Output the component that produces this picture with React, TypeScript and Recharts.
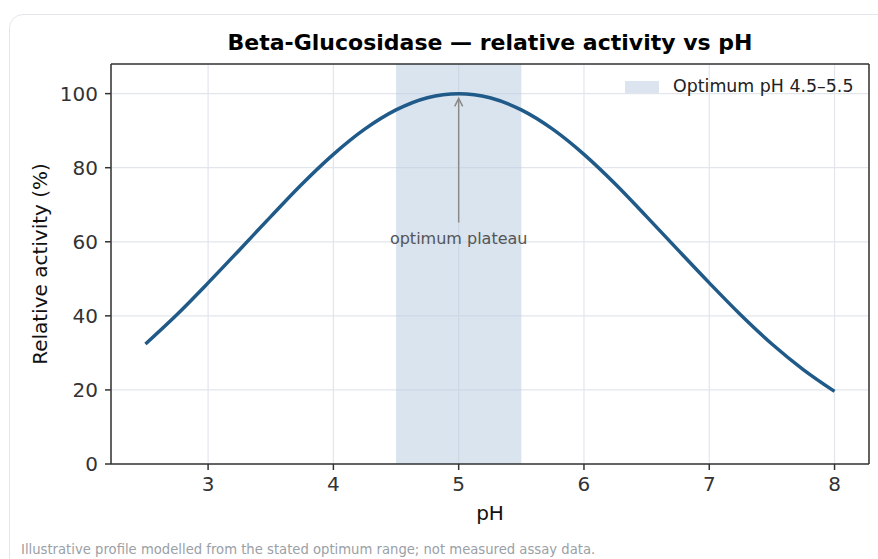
import { LineChart, Line, XAxis, YAxis, CartesianGrid, ReferenceArea, ReferenceLine, Label } from 'recharts';

const PH = [2.5, 2.75, 3, 3.25, 3.5, 3.75, 4, 4.25, 4.5, 4.75, 5, 5.25, 5.5, 5.75, 6, 6.25, 6.5, 6.75, 7, 7.25, 7.5, 7.75, 8];
const ACTIVITY = [32.4, 40.3, 48.9, 57.8, 66.8, 75.6, 83.6, 90.4, 95.6, 98.9, 100, 98.9, 95.6, 90.4, 83.6, 75.6, 66.8, 57.8, 48.9, 40.3, 32.4, 25.5, 19.6];

const X_TICKS = [3, 4, 5, 6, 7, 8];
const Y_TICKS = [0, 20, 40, 60, 80, 100];
const OPTIMUM = [4.5, 5.5];
const ARROW = { x: 5, from: 65.2, to: 98.7 };

const TITLE = 'Beta-Glucosidase — relative activity vs pH';
const LEGEND = 'Optimum pH 4.5–5.5';
const NOTE = 'optimum plateau';
const FOOTER = 'Illustrative profile modelled from the stated optimum range; not measured assay data.';

const data = PH.map((ph, i) => ({ ph, activity: ACTIVITY[i] }));

const FONT = '"DejaVu Sans", sans-serif';
const TICK = { fontSize: 20, fill: '#333', fontFamily: FONT };

function Arrow(props: any) {
  const { x1, y1, x2, y2 } = props;
  const top = Math.min(y1, y2);
  const bottom = Math.max(y1, y2);
  return (
    <g>
      <line x1={x1} y1={bottom} x2={x2} y2={top + 1} stroke="#8a8a8a" strokeWidth={1.5} />
      <path d={`M${x1 - 4},${top + 8} L${x1},${top} L${x1 + 4},${top + 8}`} fill="none" stroke="#8a8a8a" strokeWidth={1.5} />
      <text x={x1} y={bottom + 21} textAnchor="middle" fontSize={16} fill="#555" fontFamily={FONT}>
        {NOTE}
      </text>
    </g>
  );
}

export default function App() {
  return (
    <div style={{ position: 'absolute', left: 0, top: 0, width: 878, height: 559, overflow: 'hidden', background: '#fff', fontFamily: FONT }}>
      <div
        style={{
          position: 'absolute',
          left: 9,
          top: 14,
          width: 920,
          height: 560,
          border: '1.5px solid #e3e6ea',
          borderRadius: 14,
          boxSizing: 'border-box',
        }}
      />
      <div style={{ position: 'absolute', left: 0, top: 0 }}>
        <LineChart width={878} height={559} data={data} margin={{ top: 64, right: 9, left: 0, bottom: 0 }}>
          <CartesianGrid stroke="#e2e6ec" strokeWidth={1.2} />
          <ReferenceArea x1={OPTIMUM[0]} x2={OPTIMUM[1]} y1={0} y2={108} fill="#b8cbe0" fillOpacity={0.52} stroke="none" />
          <XAxis
            type="number"
            dataKey="ph"
            domain={[2.225, 8.275]}
            ticks={X_TICKS}
            allowDataOverflow
            height={95}
            tick={TICK}
            tickSize={6}
            tickMargin={7}
            stroke="#333"
            strokeWidth={1.5}
          >
            <Label value="pH" position="insideTop" offset={42} style={{ fontSize: 20, fill: '#111', fontFamily: FONT }} />
          </XAxis>
          <YAxis
            type="number"
            domain={[0, 108]}
            ticks={Y_TICKS}
            allowDataOverflow
            width={111}
            tick={TICK}
            tickSize={6}
            tickMargin={7}
            stroke="#333"
            strokeWidth={1.5}
          >
            <Label
              value="Relative activity (%)"
              angle={-90}
              position="insideLeft"
              offset={40}
              style={{ fontSize: 20, fill: '#111', fontFamily: FONT, textAnchor: 'middle' }}
            />
          </YAxis>
          <ReferenceLine y={108} stroke="#333" strokeWidth={1.5} />
          <ReferenceLine x={8.275} stroke="#333" strokeWidth={1.5} />
          <ReferenceLine
            segment={[
              { x: ARROW.x, y: ARROW.from },
              { x: ARROW.x, y: ARROW.to },
            ]}
            shape={Arrow}
          />
          <Line
            type="monotone"
            dataKey="activity"
            stroke="#1f5a89"
            strokeWidth={3.5}
            dot={false}
            activeDot={false}
            isAnimationActive={false}
          />
        </LineChart>
      </div>
      <div
        style={{
          position: 'absolute',
          left: 0,
          width: 980,
          top: 30,
          textAlign: 'center',
          fontSize: 22,
          fontWeight: 'bold',
          color: '#000',
          lineHeight: '26px',
        }}
      >
        {TITLE}
      </div>
      <div style={{ position: 'absolute', left: 625, top: 81, width: 34, height: 12, background: '#dce5ef' }} />
      <div style={{ position: 'absolute', left: 673, top: 76, fontSize: 17.4, color: '#222', lineHeight: '20px', whiteSpace: 'nowrap' }}>
        {LEGEND}
      </div>
      <div style={{ position: 'absolute', left: 21, top: 542, fontSize: 13.2, color: '#9aa0a6', lineHeight: '16px', whiteSpace: 'nowrap' }}>
        {FOOTER}
      </div>
    </div>
  );
}
